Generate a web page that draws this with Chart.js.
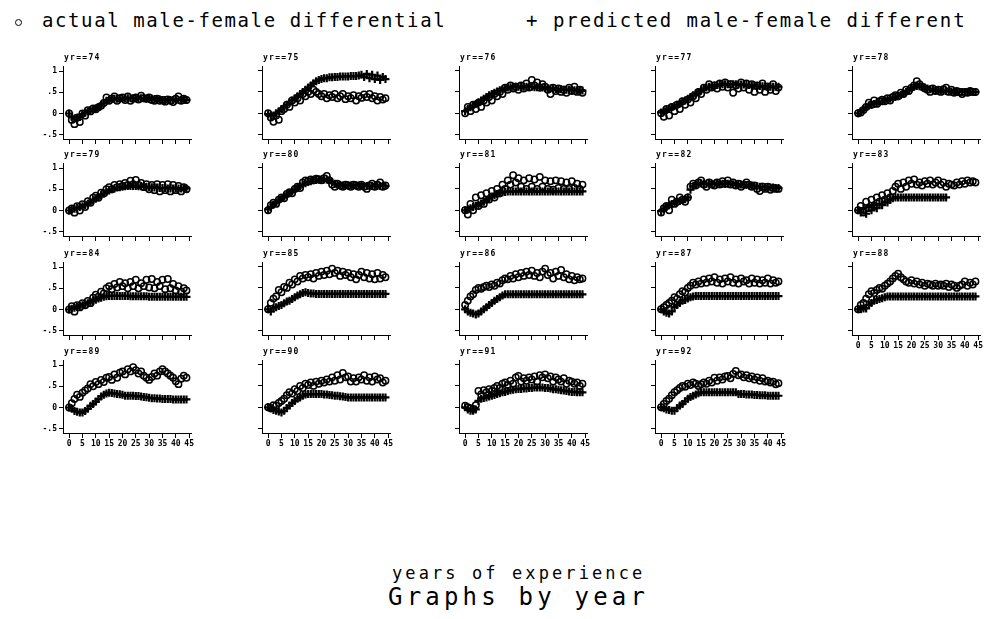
<!DOCTYPE html>
<html>
<head>
<meta charset="utf-8">
<script src="https://cdn.jsdelivr.net/npm/chart.js@4.4.1/dist/chart.umd.min.js"></script>
<style>
  html, body { margin: 0; padding: 0; background: #fff; }
  #page { position: relative; width: 984px; height: 619px; overflow: hidden; background: #fff; }
  #page canvas { position: absolute; }
  .txt { position: absolute; font-family: "DejaVu Sans Mono", monospace; color: #000; white-space: pre; line-height: 1; }
  .legend-text { font-size: 19px; top: 11px; }
  #leg1 { left: 42px; letter-spacing: 1.6px; }
  #legPlus { left: 526px; }
  #leg2 { left: 553px; letter-spacing: 1.9px; }
  #legCircle { position: absolute; left: 15px; top: 19px; width: 5px; height: 5px; border: 1.5px solid #000; border-radius: 50%; }
  #xtitle { left: 392px; top: 565px; font-size: 17px; letter-spacing: 3.1px; }
  #note { left: 388px; top: 585px; font-size: 24px; letter-spacing: 4.2px; }
  .ptitle { font-size: 8px; font-weight: bold; letter-spacing: 1.3px; }
</style>
</head>
<body>
<div id="page">
  <div id="legCircle"></div>
  <div class="txt legend-text" id="leg1">actual male-female differential</div>
  <div class="txt legend-text" id="legPlus">+</div>
  <div class="txt legend-text" id="leg2">predicted male-female different</div>
  <div class="txt" id="xtitle">years of experience</div>
  <div class="txt" id="note">Graphs by year</div>
</div>
<script>
// Years of experience (x) and the survey years that make up the panels
const experience = [0,1,2,3,4,5,6,7,8,9,10,11,12,13,14,15,16,17,18,19,20,21,22,23,24,25,26,27,28,29,30,31,32,33,34,35,36,37,38,39,40,41,42,43,44];
const years = ['74','75','76','77','78','79','80','81','82','83','84','85','86','87','88','89','90','91','92'];
const xTicks = [0,5,10,15,20,25,30,35,40,45];
const yTicks = [-0.5,0,0.5,1];
const yTickLabels = ['-.5','0','.5','1'];

// Male-female differential by experience, actual and predicted, per year
const actual74 = [0.00,-0.15,-0.25,-0.10,-0.20,0.00,-0.05,0.08,0.05,0.12, 0.10,0.15,0.18,0.25,0.38,0.30,0.35,0.40,0.30,0.36, 0.38,0.32,0.40,0.30,0.35,0.38,0.33,0.42,0.36,0.35, 0.38,0.32,0.30,0.35,0.30,0.32,0.28,0.33,0.30,0.27, 0.35,0.40,0.30,0.35,0.32];
const predicted74 = [0.00,-0.08,-0.12,-0.10,-0.08,-0.02,0.02,0.05,0.08,0.10, 0.12,0.15,0.20,0.25,0.30,0.32,0.34,0.35,0.35,0.35, 0.36,0.36,0.36,0.36,0.36,0.36,0.36,0.36,0.36,0.35, 0.35,0.35,0.34,0.33,0.33,0.32,0.32,0.32,0.32,0.32, 0.32,0.32,0.32,0.32,0.32];
const actual75 = [0.00,-0.10,-0.20,-0.05,-0.15,0.05,0.10,0.20,0.15,0.30, 0.25,0.35,0.30,0.45,0.40,0.50,0.45,0.55,0.50,0.45, 0.40,0.45,0.35,0.42,0.38,0.45,0.35,0.40,0.45,0.33, 0.40,0.35,0.42,0.30,0.40,0.36,0.44,0.38,0.45,0.35, 0.40,0.30,0.38,0.32,0.35];
const predicted75 = [-0.02,-0.05,-0.05,0.00,0.05,0.10,0.15,0.20,0.25,0.30, 0.35,0.40,0.45,0.50,0.55,0.60,0.65,0.70,0.75,0.78, 0.80,0.82,0.82,0.84,0.84,0.85,0.85,0.86,0.86,0.86, 0.86,0.87,0.87,0.87,0.88,0.90,0.85,0.92,0.82,0.90, 0.80,0.88,0.78,0.85,0.80];
const actual76 = [0.00,0.15,0.05,0.20,0.10,0.25,0.15,0.30,0.25,0.38, 0.30,0.45,0.40,0.50,0.45,0.60,0.55,0.65,0.58,0.62, 0.55,0.65,0.58,0.70,0.60,0.78,0.65,0.72,0.60,0.68, 0.62,0.55,0.45,0.60,0.52,0.58,0.50,0.55,0.48,0.60, 0.52,0.62,0.50,0.55,0.48];
const predicted76 = [0.05,0.10,0.14,0.18,0.22,0.26,0.30,0.34,0.38,0.42, 0.45,0.48,0.51,0.54,0.56,0.58,0.60,0.61,0.62,0.62, 0.62,0.62,0.62,0.62,0.62,0.62,0.61,0.61,0.60,0.60, 0.59,0.58,0.58,0.57,0.57,0.56,0.56,0.55,0.55,0.55, 0.54,0.54,0.54,0.53,0.53];
const actual77 = [0.00,-0.08,0.10,-0.05,0.15,0.05,0.20,0.10,0.28,0.20, 0.32,0.25,0.40,0.35,0.50,0.45,0.60,0.55,0.68,0.60, 0.65,0.58,0.70,0.62,0.72,0.60,0.68,0.48,0.65,0.58, 0.72,0.60,0.70,0.55,0.68,0.50,0.65,0.55,0.70,0.50, 0.62,0.55,0.68,0.52,0.60];
const predicted77 = [0.02,0.05,0.08,0.11,0.14,0.17,0.20,0.23,0.27,0.30, 0.34,0.38,0.42,0.46,0.50,0.54,0.57,0.60,0.62,0.64, 0.65,0.66,0.67,0.68,0.68,0.68,0.68,0.68,0.68,0.67, 0.67,0.67,0.66,0.66,0.65,0.65,0.64,0.64,0.63,0.63, 0.62,0.62,0.62,0.62,0.62];
const actual78 = [0.00,0.02,0.08,0.15,0.25,0.20,0.30,0.22,0.28,0.32, 0.28,0.35,0.30,0.38,0.42,0.40,0.48,0.45,0.55,0.52, 0.60,0.65,0.75,0.68,0.62,0.58,0.55,0.50,0.58,0.52, 0.55,0.50,0.56,0.60,0.50,0.55,0.48,0.52,0.50,0.45, 0.50,0.48,0.52,0.50,0.50];
const predicted78 = [0.00,0.05,0.10,0.14,0.18,0.20,0.22,0.24,0.26,0.28, 0.30,0.32,0.34,0.36,0.38,0.40,0.43,0.46,0.50,0.54, 0.58,0.62,0.64,0.63,0.62,0.60,0.58,0.56,0.55,0.54, 0.53,0.53,0.52,0.52,0.52,0.51,0.51,0.50,0.50,0.50, 0.50,0.50,0.50,0.50,0.50];
const actual79 = [0.00,0.05,-0.05,0.10,0.00,0.15,0.08,0.22,0.18,0.30, 0.35,0.30,0.42,0.40,0.50,0.55,0.50,0.60,0.55,0.62, 0.58,0.65,0.60,0.70,0.62,0.72,0.60,0.65,0.55,0.62, 0.50,0.60,0.48,0.62,0.45,0.60,0.48,0.62,0.45,0.60, 0.48,0.58,0.45,0.55,0.50];
const predicted79 = [0.00,0.02,0.04,0.06,0.08,0.10,0.13,0.16,0.20,0.24, 0.28,0.32,0.36,0.40,0.44,0.47,0.50,0.52,0.54,0.55, 0.56,0.57,0.58,0.58,0.58,0.58,0.57,0.57,0.56,0.56, 0.55,0.55,0.54,0.54,0.53,0.53,0.53,0.52,0.52,0.52, 0.52,0.52,0.52,0.52,0.52];
const actual80 = [0.00,0.12,0.18,0.15,0.25,0.30,0.28,0.38,0.42,0.40, 0.50,0.55,0.52,0.65,0.70,0.68,0.72,0.70,0.74,0.72, 0.70,0.75,0.80,0.70,0.60,0.55,0.62,0.58,0.55,0.60, 0.58,0.55,0.60,0.58,0.55,0.60,0.55,0.50,0.58,0.62, 0.55,0.60,0.65,0.55,0.58];
const predicted80 = [0.02,0.08,0.13,0.18,0.23,0.28,0.32,0.36,0.40,0.44, 0.48,0.52,0.56,0.60,0.63,0.66,0.68,0.70,0.71,0.72, 0.72,0.72,0.72,0.70,0.66,0.62,0.60,0.58,0.58,0.58, 0.58,0.58,0.58,0.58,0.58,0.57,0.57,0.57,0.57,0.57, 0.57,0.57,0.57,0.57,0.57];
const actual81 = [0.00,-0.10,0.15,0.00,0.30,0.10,0.35,0.15,0.40,0.25, 0.45,0.30,0.50,0.40,0.60,0.50,0.70,0.60,0.82,0.65, 0.75,0.55,0.70,0.50,0.75,0.55,0.72,0.50,0.78,0.55, 0.70,0.50,0.68,0.48,0.70,0.52,0.68,0.50,0.65,0.50, 0.68,0.52,0.62,0.50,0.60];
const predicted81 = [0.00,0.02,0.05,0.08,0.10,0.13,0.16,0.20,0.24,0.28, 0.32,0.35,0.38,0.40,0.42,0.43,0.44,0.44,0.44,0.44, 0.44,0.44,0.44,0.44,0.44,0.44,0.44,0.44,0.44,0.44, 0.44,0.44,0.44,0.44,0.44,0.44,0.44,0.44,0.44,0.44, 0.44,0.44,0.44,0.44,0.44];
const actual82 = [-0.05,0.05,0.10,0.00,0.25,0.15,0.20,0.30,0.25,0.20, 0.30,0.55,0.62,0.58,0.65,0.70,0.60,0.55,0.65,0.60, 0.58,0.65,0.60,0.68,0.62,0.70,0.60,0.65,0.58,0.62, 0.55,0.60,0.65,0.60,0.55,0.58,0.50,0.45,0.55,0.50, 0.55,0.48,0.52,0.50,0.50];
const predicted82 = [-0.02,0.03,0.08,0.12,0.15,0.18,0.20,0.22,0.24,0.26, 0.30,0.48,0.56,0.60,0.62,0.63,0.62,0.62,0.62,0.62, 0.62,0.62,0.62,0.62,0.62,0.62,0.62,0.61,0.61,0.60, 0.60,0.59,0.59,0.58,0.58,0.57,0.56,0.55,0.55,0.54, 0.54,0.53,0.53,0.52,0.52];
const actual83 = [0.00,0.10,-0.05,0.20,0.05,0.25,0.10,0.30,0.20,0.35, 0.25,0.40,0.30,0.45,0.55,0.62,0.50,0.65,0.55,0.70, 0.62,0.72,0.60,0.65,0.58,0.68,0.62,0.70,0.60,0.65, 0.70,0.60,0.65,0.55,0.62,0.60,0.58,0.65,0.60,0.68, 0.62,0.70,0.65,0.68,0.65];
const predicted83 = [0.00,-0.05,0.05,-0.08,0.08,0.00,0.12,0.05,0.15,0.12, 0.20,0.18,0.25,0.28,0.30,0.30,0.30,0.30,0.30,0.30, 0.30,0.30,0.30,0.30,0.30,0.30,0.30,0.30,0.30,0.30, 0.30,0.30,0.30,0.30,null,null,null,null,null,null, null,null,null,null,null];
const actual84 = [0.00,0.08,-0.05,0.10,0.05,0.15,0.10,0.20,0.15,0.28, 0.35,0.30,0.42,0.38,0.50,0.55,0.48,0.60,0.52,0.65, 0.55,0.62,0.50,0.65,0.55,0.70,0.50,0.62,0.55,0.70, 0.52,0.72,0.50,0.65,0.55,0.70,0.48,0.72,0.50,0.60, 0.45,0.55,0.42,0.50,0.45];
const predicted84 = [0.00,0.02,0.04,0.06,0.08,0.10,0.12,0.15,0.18,0.20, 0.23,0.26,0.28,0.30,0.31,0.32,0.32,0.32,0.32,0.32, 0.32,0.32,0.32,0.31,0.31,0.31,0.31,0.31,0.31,0.31, 0.30,0.30,0.30,0.30,0.30,0.30,0.30,0.30,0.30,0.30, 0.30,0.30,0.30,0.30,0.30];
const actual85 = [0.00,0.15,0.25,0.30,0.45,0.40,0.52,0.50,0.62,0.58, 0.70,0.65,0.78,0.72,0.80,0.75,0.82,0.72,0.85,0.78, 0.88,0.80,0.90,0.82,0.95,0.85,0.90,0.78,0.88,0.80, 0.85,0.75,0.82,0.70,0.80,0.88,0.75,0.85,0.72,0.82, 0.70,0.85,0.72,0.80,0.75];
const predicted85 = [0.00,-0.05,0.02,0.05,0.08,0.10,0.14,0.18,0.20,0.24, 0.28,0.32,0.35,0.38,0.40,0.38,0.37,0.37,0.36,0.36, 0.36,0.36,0.36,0.36,0.36,0.36,0.36,0.36,0.36,0.36, 0.36,0.36,0.36,0.36,0.36,0.36,0.36,0.36,0.36,0.36, 0.36,0.36,0.36,0.36,0.36];
const actual86 = [0.10,0.20,0.30,0.35,0.45,0.50,0.48,0.52,0.55,0.52, 0.58,0.55,0.62,0.60,0.68,0.72,0.70,0.78,0.72,0.82, 0.75,0.85,0.78,0.88,0.80,0.90,0.78,0.85,0.75,0.88, 0.95,0.80,0.85,0.72,0.88,0.78,0.92,0.75,0.82,0.70, 0.78,0.68,0.75,0.70,0.72];
const predicted86 = [0.00,-0.05,-0.08,-0.10,-0.12,-0.10,-0.05,0.00,0.05,0.10, 0.15,0.20,0.24,0.28,0.32,0.35,0.35,0.35,0.35,0.35, 0.35,0.35,0.35,0.35,0.35,0.35,0.35,0.35,0.35,0.35, 0.35,0.35,0.35,0.35,0.35,0.35,0.35,0.35,0.35,0.35, 0.35,0.35,0.35,0.35,0.35];
const actual87 = [0.00,0.05,0.10,0.15,0.20,0.28,0.25,0.35,0.42,0.40, 0.50,0.55,0.62,0.58,0.65,0.60,0.70,0.62,0.72,0.65, 0.75,0.62,0.70,0.60,0.72,0.65,0.75,0.62,0.70,0.60, 0.72,0.65,0.68,0.60,0.72,0.62,0.70,0.60,0.68,0.62, 0.72,0.60,0.68,0.62,0.65];
const predicted87 = [0.00,-0.05,-0.08,-0.10,-0.05,0.05,0.10,0.15,0.20,0.22, 0.25,0.28,0.30,0.31,0.31,0.31,0.31,0.31,0.31,0.31, 0.31,0.31,0.31,0.31,0.31,0.31,0.31,0.31,0.31,0.31, 0.31,0.31,0.31,0.31,0.31,0.31,0.31,0.31,0.31,0.31, 0.31,0.31,0.31,0.31,0.31];
const actual88 = [0.00,0.10,0.15,0.25,0.35,0.42,0.38,0.45,0.50,0.48, 0.55,0.60,0.65,0.72,0.78,0.83,0.75,0.70,0.65,0.62, 0.68,0.60,0.65,0.58,0.62,0.55,0.60,0.58,0.55,0.60, 0.55,0.58,0.55,0.60,0.52,0.58,0.55,0.50,0.55,0.58, 0.65,0.55,0.62,0.58,0.65];
const predicted88 = [0.00,0.00,0.02,0.02,0.10,0.15,0.20,0.22,0.24,0.26, 0.28,0.30,0.30,0.30,0.30,0.30,0.30,0.30,0.30,0.30, 0.30,0.30,0.30,0.30,0.30,0.30,0.30,0.30,0.30,0.30, 0.30,0.30,0.30,0.30,0.30,0.30,0.30,0.30,0.30,0.30, 0.30,0.30,0.30,0.30,0.30];
const actual89 = [0.00,0.10,0.20,0.30,0.25,0.35,0.40,0.45,0.55,0.50, 0.60,0.55,0.65,0.60,0.70,0.72,0.65,0.78,0.70,0.82, 0.85,0.78,0.90,0.85,0.95,0.88,0.80,0.85,0.75,0.70, 0.65,0.72,0.80,0.75,0.85,0.90,0.85,0.80,0.75,0.70, 0.62,0.55,0.68,0.75,0.70];
const predicted89 = [0.00,-0.03,-0.08,-0.10,-0.12,-0.12,-0.08,-0.03,0.04,0.08, 0.14,0.20,0.26,0.30,0.33,0.35,0.34,0.33,0.32,0.31, 0.30,0.28,0.28,0.28,0.28,0.27,0.27,0.26,0.25,0.24, 0.23,0.22,0.22,0.21,0.21,0.20,0.20,0.20,0.20,0.19, 0.19,0.19,0.19,0.19,0.19];
const actual90 = [0.00,-0.02,0.05,0.04,0.10,0.15,0.20,0.28,0.35,0.32, 0.42,0.38,0.50,0.45,0.55,0.52,0.58,0.50,0.60,0.55, 0.62,0.58,0.65,0.60,0.70,0.62,0.75,0.65,0.80,0.70, 0.72,0.60,0.68,0.60,0.70,0.65,0.75,0.62,0.70,0.60, 0.72,0.65,0.68,0.58,0.62];
const predicted90 = [0.00,-0.03,-0.06,-0.08,-0.10,-0.12,-0.08,-0.02,0.04,0.10, 0.15,0.20,0.23,0.27,0.30,0.31,0.31,0.31,0.31,0.31, 0.31,0.30,0.30,0.29,0.28,0.27,0.27,0.26,0.25,0.24, 0.23,0.23,0.23,0.23,0.23,0.23,0.23,0.23,0.23,0.23, 0.23,0.23,0.23,0.23,0.23];
const actual91 = [0.04,0.00,-0.02,-0.04,0.05,0.38,0.30,0.40,0.35,0.42, 0.38,0.45,0.50,0.45,0.55,0.58,0.52,0.62,0.55,0.70, 0.73,0.60,0.68,0.62,0.70,0.65,0.72,0.60,0.75,0.70, 0.77,0.68,0.72,0.60,0.70,0.65,0.60,0.68,0.55,0.62, 0.60,0.55,0.58,0.50,0.55];
const predicted91 = [0.00,-0.05,-0.08,-0.08,-0.05,0.15,0.20,0.22,0.23,0.25, 0.27,0.29,0.31,0.33,0.35,0.36,0.38,0.40,0.41,0.42, 0.43,0.43,0.44,0.44,0.45,0.45,0.46,0.46,0.46,0.46, 0.45,0.45,0.44,0.42,0.42,0.41,0.40,0.39,0.38,0.37, 0.36,0.36,0.35,0.35,0.35];
const actual92 = [0.00,0.08,0.15,0.20,0.28,0.35,0.40,0.45,0.50,0.48, 0.55,0.52,0.58,0.55,0.50,0.54,0.58,0.55,0.62,0.58, 0.69,0.62,0.70,0.65,0.72,0.73,0.68,0.78,0.85,0.75, 0.77,0.70,0.75,0.68,0.72,0.65,0.70,0.62,0.68,0.60, 0.62,0.58,0.60,0.54,0.56];
const predicted92 = [0.00,-0.02,-0.05,-0.06,-0.08,-0.08,-0.02,0.04,0.08,0.14, 0.20,0.24,0.27,0.30,0.33,0.35,0.35,0.35,0.35,0.35, 0.35,0.35,0.35,0.35,0.35,0.35,0.35,0.35,0.35,0.31, 0.31,0.31,0.30,0.30,0.30,0.29,0.29,0.28,0.28,0.28, 0.27,0.27,0.27,0.27,0.27];

const actualByYear = [actual74, actual75, actual76, actual77, actual78, actual79, actual80, actual81, actual82, actual83,
                      actual84, actual85, actual86, actual87, actual88, actual89, actual90, actual91, actual92];
const predictedByYear = [predicted74, predicted75, predicted76, predicted77, predicted78, predicted79, predicted80, predicted81, predicted82, predicted83,
                         predicted84, predicted85, predicted86, predicted87, predicted88, predicted89, predicted90, predicted91, predicted92];

// Grid geometry: left edge of each column's plot area, bottom of each row's plot area
const COL_X = [63, 262, 459, 655, 852];
const ROW_BOTTOM = [139, 236, 335, 433];
const PLOT_W = 128, PLOT_H = 73;
const X_MIN = -2.3, X_MAX = 45.7, Y_MIN = -0.6, Y_MAX = 1.1;

const page = document.getElementById('page');
const tickFont = { family: '"DejaVu Sans Mono", monospace', size: 8, weight: 'bold' };

function toPoints(values) {
  return experience.map((x, k) => ({ x: x, y: values[k] }));
}

function makePanel(i) {
  const col = i % 5, row = Math.floor(i / 5);
  const showX = row === 3 || (row === 2 && col === 4);
  const showY = col === 0;
  const padL = showY ? 32 : 8, padR = 8, padT = 6, padB = showX ? 20 : 8;
  const W = padL + PLOT_W + padR, H = padT + PLOT_H + padB;

  const cv = document.createElement('canvas');
  cv.width = W; cv.height = H;
  cv.style.width = W + 'px'; cv.style.height = H + 'px';
  cv.style.left = (COL_X[col] - padL) + 'px';
  cv.style.top = (ROW_BOTTOM[row] - PLOT_H - padT) + 'px';
  page.appendChild(cv);

  const title = document.createElement('div');
  title.className = 'txt ptitle';
  title.textContent = 'yr==' + years[i];
  title.style.left = (COL_X[col] + 1) + 'px';
  title.style.top = (ROW_BOTTOM[row] - 78 - 7) + 'px';
  page.appendChild(title);

  const axisLine = { display: true, color: '#000', width: 1 };

  new Chart(cv, {
    type: 'scatter',
    data: {
      datasets: [
        {
          label: 'actual male-female differential',
          data: toPoints(actualByYear[i]),
          pointStyle: 'circle',
          pointRadius: 3.2,
          pointBorderWidth: 1.5,
          pointBorderColor: '#000',
          pointBackgroundColor: 'rgba(0,0,0,0)',
          showLine: false
        },
        {
          label: 'predicted male-female differential',
          data: toPoints(predictedByYear[i]),
          pointStyle: 'cross',
          pointRadius: 4,
          pointBorderWidth: 2.2,
          pointBorderColor: '#000',
          pointBackgroundColor: '#000',
          showLine: false
        }
      ]
    },
    options: {
      responsive: false,
      animation: false,
      devicePixelRatio: 1,
      events: [],
      layout: { padding: { top: padT, right: padR, left: 0, bottom: 0 } },
      plugins: { legend: { display: false }, tooltip: { enabled: false }, title: { display: false } },
      scales: {
        x: {
          type: 'linear',
          min: X_MIN, max: X_MAX,
          afterBuildTicks: s => { s.ticks = xTicks.map(v => ({ value: v })); },
          afterFit: s => { s.height = padB; },
          border: axisLine,
          grid: { display: true, drawOnChartArea: false, drawTicks: true, tickLength: 5, color: '#000', lineWidth: 1 },
          ticks: { display: showX, autoSkip: false, maxRotation: 0, minRotation: 0, padding: 1, color: '#000', font: tickFont }
        },
        y: {
          type: 'linear',
          min: Y_MIN, max: Y_MAX,
          afterBuildTicks: s => { s.ticks = yTicks.map(v => ({ value: v })); },
          afterFit: s => { s.width = padL; },
          border: axisLine,
          grid: { display: true, drawOnChartArea: false, drawTicks: true, tickLength: 4, color: '#000', lineWidth: 1 },
          ticks: {
            display: showY, padding: 2, color: '#000', font: tickFont,
            callback: v => yTickLabels[yTicks.indexOf(v)]
          }
        }
      }
    }
  });
}

years.forEach((y, i) => makePanel(i));
</script>
</body>
</html>
